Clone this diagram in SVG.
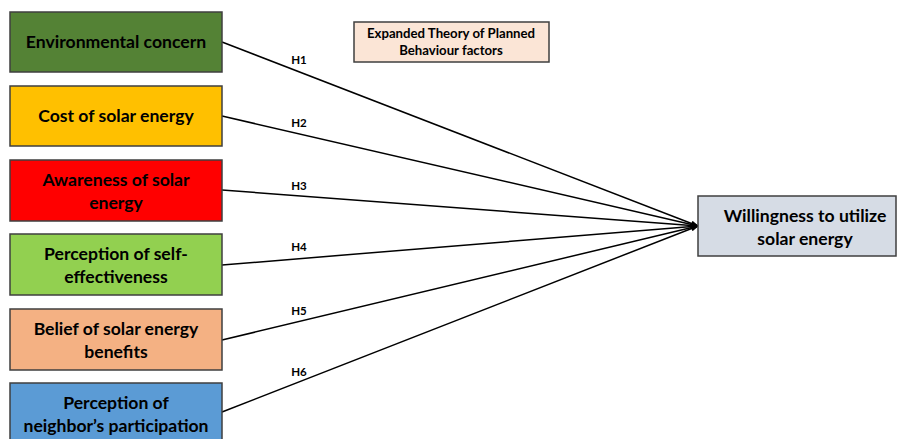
<svg xmlns="http://www.w3.org/2000/svg" width="897" height="439" viewBox="0 0 897 439">
<style>
.box{stroke:#3f3f3f;stroke-width:1.5}
.t{font-family:Lato,"Open Sans",sans-serif;font-weight:bold;font-size:17.6px;text-anchor:middle;fill:#000}
.ts{font-family:Lato,"Open Sans",sans-serif;font-weight:bold;font-size:13.2px;text-anchor:middle;fill:#000}
.h{font-family:Lato,"Open Sans",sans-serif;font-weight:bold;font-size:11.5px;text-anchor:middle;fill:#000}
.c{stroke:#000;stroke-width:1.5;fill:none;marker-end:url(#ah)}
</style>
<defs>
<marker id="ah" markerWidth="8" markerHeight="8" refX="7" refY="4" orient="auto" markerUnits="userSpaceOnUse">
<path d="M0,1 L8,4 L0,7 Z" fill="#000"/>
</marker>
</defs>
<rect width="897" height="439" fill="#fff"/>
<g id="connectors">
<line class="c" x1="222" y1="42" x2="698" y2="226"/>
<line class="c" x1="222" y1="116" x2="698" y2="226"/>
<line class="c" x1="222" y1="190" x2="698" y2="226"/>
<line class="c" x1="222" y1="265" x2="698" y2="226"/>
<line class="c" x1="222" y1="340" x2="698" y2="226"/>
<line class="c" x1="222" y1="412" x2="698" y2="226"/>
<text class="h" x="299" y="64">H1</text>
<text class="h" x="299" y="127">H2</text>
<text class="h" x="299" y="190">H3</text>
<text class="h" x="299" y="251">H4</text>
<text class="h" x="299" y="315">H5</text>
<text class="h" x="299" y="376">H6</text>
</g>
<g id="title">
<rect class="box" x="354" y="22" width="195" height="40" fill="#FBE5D6"/>
<text class="ts" x="451" y="38">Expanded Theory of Planned</text>
<text class="ts" x="451" y="55">Behaviour factors</text>
</g>
<g id="env">
<rect class="box" x="10" y="12" width="212" height="60" fill="#548235"/>
<text class="t" x="116" y="48">Environmental concern</text>
</g>
<g id="cost">
<rect class="box" x="10" y="86" width="212" height="60" fill="#FFC000"/>
<text class="t" x="116" y="122">Cost of solar energy</text>
</g>
<g id="aware">
<rect class="box" x="10" y="160" width="212" height="61" fill="#FF0000"/>
<text class="t" x="116" y="186">Awareness of solar</text>
<text class="t" x="116" y="209">energy</text>
</g>
<g id="self">
<rect class="box" x="10" y="234" width="212" height="61" fill="#92D050"/>
<text class="t" x="116" y="260">Perception of self-</text>
<text class="t" x="116" y="283">effectiveness</text>
</g>
<g id="belief">
<rect class="box" x="10" y="309" width="212" height="61" fill="#F4B183"/>
<text class="t" x="116" y="335">Belief of solar energy</text>
<text class="t" x="116" y="358">benefits</text>
</g>
<g id="neighbor">
<rect class="box" x="10" y="383" width="212" height="62" fill="#5B9BD5"/>
<text class="t" x="116" y="409">Perception of</text>
<text class="t" x="116" y="432">neighbor’s participation</text>
</g>
<g id="will">
<rect class="box" x="698" y="196" width="198" height="60" fill="#D6DCE5"/>
<text class="t" x="805" y="222">Willingness to utilize</text>
<text class="t" x="805" y="245">solar energy</text>
</g>
</svg>
